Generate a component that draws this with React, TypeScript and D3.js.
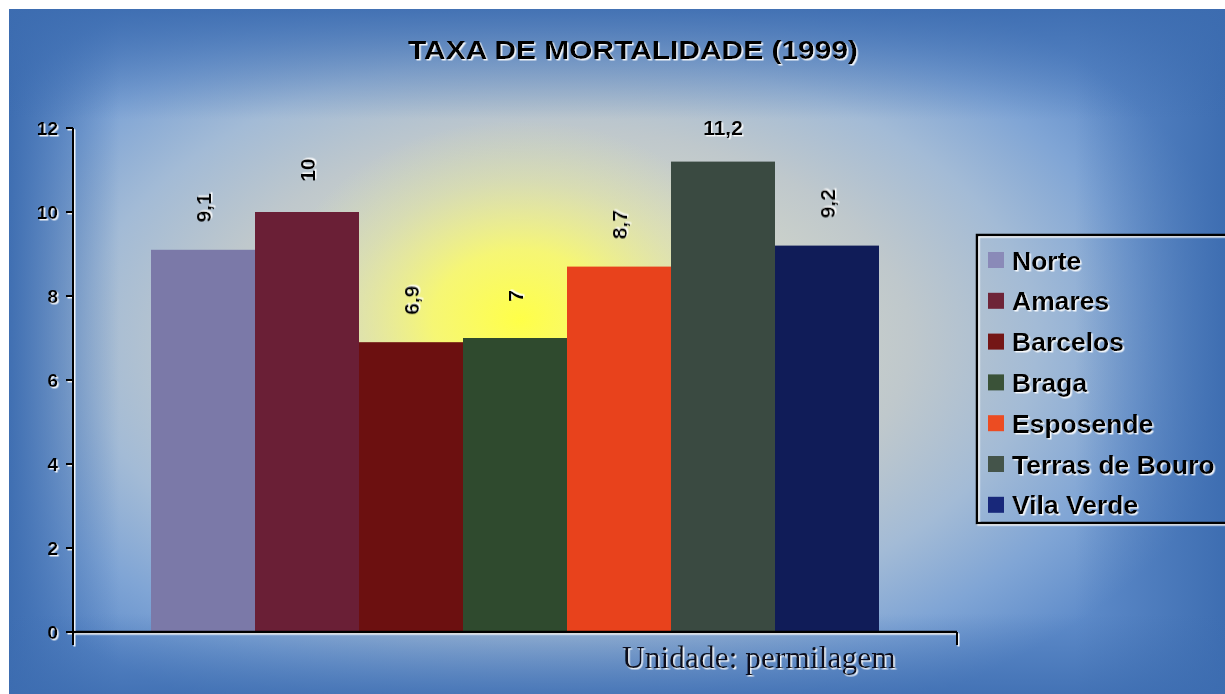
import React from 'react';
import * as d3 from 'd3';

const TITLE = 'TAXA DE MORTALIDADE (1999)';
const UNIT_NOTE = 'Unidade: permilagem';

// one category, seven series (Excel-style clustered bar)
const SERIES = ['Norte', 'Amares', 'Barcelos', 'Braga', 'Esposende', 'Terras de Bouro', 'Vila Verde'];
const VALUES = [9.1, 10, 6.9, 7, 8.7, 11.2, 9.2];
const VALUE_LABELS = ['9,1', '10', '6,9', '7', '8,7', '11,2', '9,2'];
const Y_TICKS = [0, 2, 4, 6, 8, 10, 12];

const BAR_COLORS = ['#7b79a8', '#6a1f36', '#6c1010', '#2f4a2e', '#e8421c', '#3a4a41', '#101c58'];
const SWATCH_COLORS = ['#8a8ab8', '#6e2438', '#741616', '#3a5238', '#ec4c22', '#44544a', '#18287a'];

const W = 1225;
const H = 694;
const BG = { x: 9, y: 9 };
const PLOT = { left: 73, right: 957, top: 128, bottom: 632 };
const LEGEND = { x: 977, y: 235, w: 270, h: 288, row: 40.8, first: 260 };

const BOLD = 'Arial, "Liberation Sans", sans-serif';
const EDGE_BLUE = '#3c6cb0';

// background: grey centre fading to blue, plus darker edges
const BG_STOPS: [number, string][] = [
    [0, '#e2e4c8'],
    [0.3, '#d2d6c9'],
    [0.5, '#bfc8cc'],
    [0.68, '#a3bbd6'],
    [0.84, '#80a5d5'],
    [1, '#5f8cca'],
];

export default function App() {
    const x = d3.scaleBand<string>()
        .domain(SERIES)
        .range([PLOT.left, PLOT.right])
        .paddingInner(0)
        .paddingOuter(0.75);

    const y = d3.scaleLinear().domain([0, 12]).range([PLOT.bottom, PLOT.top]);

    const bw = W - BG.x;
    const bh = H - BG.y;

    return (
        <svg
            width={W}
            height={H}
            style={{ position: 'absolute', left: 0, top: 0, display: 'block' }}
        >
            <defs>
                <radialGradient
                    id="bgGrad"
                    gradientUnits="userSpaceOnUse"
                    cx={0} cy={0} r={1}
                    gradientTransform="translate(560,340) scale(700,420)"
                >
                    {BG_STOPS.map(([o, c]) => <stop key={o} offset={o} stopColor={c} />)}
                </radialGradient>
                <radialGradient
                    id="glow"
                    gradientUnits="userSpaceOnUse"
                    cx={0} cy={0} r={1}
                    gradientTransform="translate(520,320) scale(250,200)"
                >
                    <stop offset="0" stopColor="#ffff48" stopOpacity={1} />
                    <stop offset="0.35" stopColor="#fbfb66" stopOpacity={0.85} />
                    <stop offset="0.7" stopColor="#eef08a" stopOpacity={0.35} />
                    <stop offset="1" stopColor="#e8eaa0" stopOpacity={0} />
                </radialGradient>
                <linearGradient id="edgeL" x1="0" x2="1" y1="0" y2="0">
                    <stop offset="0" stopColor={EDGE_BLUE} stopOpacity={0.95} />
                    <stop offset="1" stopColor={EDGE_BLUE} stopOpacity={0} />
                </linearGradient>
                <linearGradient id="edgeR" x1="1" x2="0" y1="0" y2="0">
                    <stop offset="0" stopColor={EDGE_BLUE} stopOpacity={0.95} />
                    <stop offset="1" stopColor={EDGE_BLUE} stopOpacity={0} />
                </linearGradient>
                <linearGradient id="edgeT" x1="0" x2="0" y1="0" y2="1">
                    <stop offset="0" stopColor={EDGE_BLUE} stopOpacity={0.9} />
                    <stop offset="1" stopColor={EDGE_BLUE} stopOpacity={0} />
                </linearGradient>
                <linearGradient id="edgeB" x1="0" x2="0" y1="1" y2="0">
                    <stop offset="0" stopColor={EDGE_BLUE} stopOpacity={0.8} />
                    <stop offset="1" stopColor={EDGE_BLUE} stopOpacity={0} />
                </linearGradient>
                <filter id="ws" x="-10%" y="-10%" width="120%" height="130%">
                    <feDropShadow dx={1.5} dy={1.5} stdDeviation={0.4} floodColor="#ffffff" floodOpacity={0.9} />
                </filter>
            </defs>

            {/* background */}
            <rect x={BG.x} y={BG.y} width={bw} height={bh} fill="url(#bgGrad)" />
            <rect x={BG.x} y={BG.y} width={110} height={bh} fill="url(#edgeL)" />
            <rect x={W - 150} y={BG.y} width={150} height={bh} fill="url(#edgeR)" />
            <rect x={BG.x} y={BG.y} width={bw} height={110} fill="url(#edgeT)" />
            <rect x={BG.x} y={H - 80} width={bw} height={80} fill="url(#edgeB)" />
            <rect x={BG.x} y={BG.y} width={bw} height={bh} fill="url(#glow)" />

            {/* title */}
            <text
                x={633}
                y={59}
                textAnchor="middle"
                fontFamily={BOLD}
                fontWeight="bold"
                fontSize={26}
                textLength={450}
                lengthAdjust="spacingAndGlyphs"
                fill="#000"
                filter="url(#ws)"
            >
                {TITLE}
            </text>

            {/* bars */}
            {SERIES.map((s, i) => (
                <rect
                    key={s}
                    x={x(s)}
                    y={y(VALUES[i])}
                    width={x.bandwidth()}
                    height={y(0) - y(VALUES[i])}
                    fill={BAR_COLORS[i]}
                />
            ))}

            {/* value labels: rotated unless they would run above the plot */}
            {SERIES.map((s, i) => {
                const cx = (x(s) ?? 0) + x.bandwidth() / 2;
                const top = y(VALUES[i]);
                const rotatedCenter = top - 42;
                const fits = rotatedCenter - 25 > PLOT.top - 20;
                if (!fits) {
                    return (
                        <text
                            key={s}
                            x={cx}
                            y={top - 27}
                            textAnchor="middle"
                            fontFamily={BOLD}
                            fontWeight="bold"
                            fontSize={21}
                            filter="url(#ws)"
                        >
                            {VALUE_LABELS[i]}
                        </text>
                    );
                }
                return (
                    <text
                        key={s}
                        transform={`translate(${cx},${rotatedCenter}) rotate(-90)`}
                        textAnchor="middle"
                        dy="0.36em"
                        fontFamily={BOLD}
                        fontWeight="bold"
                        fontSize={21}
                        filter="url(#ws)"
                    >
                        {VALUE_LABELS[i]}
                    </text>
                );
            })}

            {/* axes */}
            <g stroke="#000" strokeWidth={2} filter="url(#ws)" fill="none">
                <line x1={PLOT.left} x2={PLOT.left} y1={y(12)} y2={PLOT.bottom + 13} />
                {Y_TICKS.map(t => (
                    <line key={t} x1={PLOT.left - 7} x2={PLOT.left} y1={y(t)} y2={y(t)} />
                ))}
                <line x1={PLOT.left} x2={PLOT.right} y1={y(0)} y2={y(0)} strokeWidth={2.5} />
                <line x1={PLOT.right} x2={PLOT.right} y1={y(0)} y2={y(0) + 13} />
            </g>
            {Y_TICKS.map(t => (
                <text
                    key={t}
                    x={PLOT.left - 15}
                    y={y(t)}
                    dy="0.36em"
                    textAnchor="end"
                    fontFamily={BOLD}
                    fontWeight="bold"
                    fontSize={19}
                    filter="url(#ws)"
                >
                    {t}
                </text>
            ))}

            {/* unit note */}
            <text
                x={622}
                y={668}
                fontFamily='"Liberation Serif", "Times New Roman", serif'
                fontSize={31.5}
                fill="#08101f"
                filter="url(#ws)"
            >
                {UNIT_NOTE}
            </text>

            {/* legend */}
            <rect
                x={LEGEND.x}
                y={LEGEND.y}
                width={LEGEND.w}
                height={LEGEND.h}
                fill="none"
                stroke="#000"
                strokeWidth={2.5}
                filter="url(#ws)"
            />
            {SERIES.map((s, i) => {
                const cy = LEGEND.first + i * LEGEND.row;
                return (
                    <g key={s}>
                        <rect x={988} y={cy - 8} width={16} height={16} fill={SWATCH_COLORS[i]} />
                        <text
                            x={1012}
                            y={cy}
                            dy="0.36em"
                            fontFamily={BOLD}
                            fontWeight="bold"
                            fontSize={26.5}
                            filter="url(#ws)"
                        >
                            {s}
                        </text>
                    </g>
                );
            })}
        </svg>
    );
}
